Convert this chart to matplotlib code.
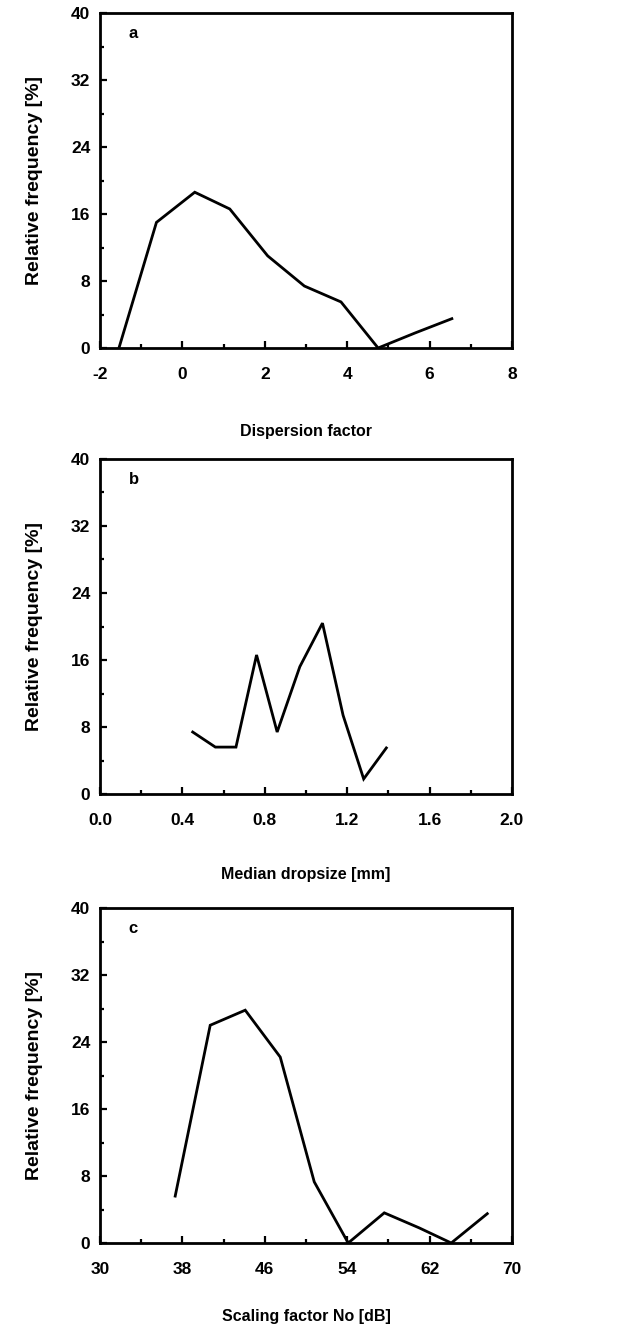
import matplotlib
matplotlib.use("Agg")
import matplotlib.pyplot as plt
import numpy as np
from matplotlib.ticker import FormatStrFormatter

plt.rcParams["font.family"] = ["Liberation Sans", "DejaVu Sans"]
plt.rcParams["font.weight"] = "bold"

# panel a: dispersion factor
disp_x = [-1.54, -0.63, 0.30, 1.15, 2.07, 2.96, 3.85, 4.75, 5.65, 6.54]
disp_y = [0.0, 15.0, 18.6, 16.6, 11.0, 7.4, 5.5, 0.0, 1.8, 3.5]

# panel b: median dropsize
drop_x = [0.45, 0.56, 0.66, 0.76, 0.86, 0.97, 1.08, 1.18, 1.28, 1.39]
drop_y = [7.4, 5.6, 5.6, 16.6, 7.4, 15.2, 20.4, 9.4, 1.8, 5.5]

# panel c: scaling factor No
scal_x = [37.3, 40.7, 44.1, 47.5, 50.8, 54.1, 57.6, 61.0, 64.1, 67.6]
scal_y = [5.6, 26.0, 27.8, 22.2, 7.3, 0.0, 3.6, 1.8, 0.0, 3.5]

panels = [
    ("a", disp_x, disp_y, (-2, 8), 2, "%d", "Dispersion factor", 30),
    ("b", drop_x, drop_y, (0.0, 2.0), 0.4, "%.1f", "Median dropsize [mm]", 28),
    ("c", scal_x, scal_y, (30, 70), 8, "%d", "Scaling factor No [dB]", 23),
]

W, H = 631, 1330
fig = plt.figure(figsize=(W / 100, H / 100), dpi=100)

left, right = 100, 512
tops = [13, 459, 908]
height = 335

for (letter, xs, ys, xlim, xstep, fmt, xlabel, lpad), top in zip(panels, tops):
    ax = fig.add_axes([left / W, 1 - (top + height) / H, (right - left) / W, height / H])
    ax.plot(xs, ys, color="black", lw=2.0, solid_joinstyle="miter")
    ax.set_xlim(*xlim)
    ax.set_ylim(0, 40)
    ax.set_xticks(np.arange(xlim[0], xlim[1] + xstep / 10, xstep))
    ax.set_xticks(np.arange(xlim[0] + xstep / 2, xlim[1], xstep), minor=True)
    ax.set_yticks(np.arange(0, 41, 8))
    ax.set_yticks(np.arange(4, 40, 8), minor=True)
    ax.xaxis.set_major_formatter(FormatStrFormatter(fmt))
    ax.tick_params(which="both", direction="in", labelsize=12.5, width=1.6)
    ax.tick_params(which="major", length=5)
    ax.tick_params(which="minor", length=3)
    ax.tick_params(axis="x", pad=14)
    ax.tick_params(axis="y", pad=7)
    for s in ax.spines.values():
        s.set_linewidth(2.0)
    ax.set_ylabel("Relative frequency [%]", fontsize=14, fontweight="bold", labelpad=20)
    ax.set_xlabel(xlabel, fontsize=11.5, fontweight="bold", labelpad=lpad)
    ax.text(0.07, 0.94, letter, transform=ax.transAxes, fontsize=12,
            fontweight="bold", va="center", ha="left")

fig.savefig("out.png", dpi=100)
